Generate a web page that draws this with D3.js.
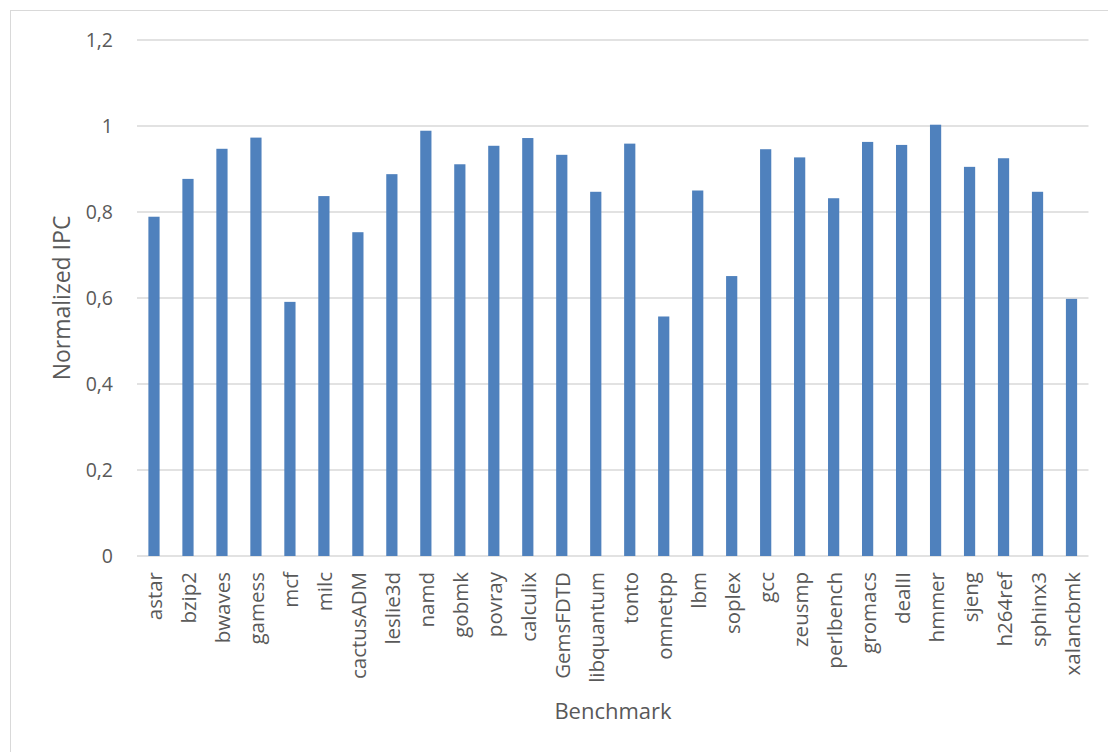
<!DOCTYPE html>
<html>
<head>
<meta charset="utf-8">
<script src="https://cdn.jsdelivr.net/npm/d3@7"></script>
<style>
  html, body { margin: 0; padding: 0; background: #fff; }
  svg { display: block; }
  text { font-family: "Open Sans", "Noto Sans", sans-serif; fill: #595959; }
</style>
</head>
<body>
<svg id="chart" width="1108" height="752"></svg>
<script>
// Benchmarks and their normalized IPC
const benchmarks = ["astar", "bzip2", "bwaves", "gamess", "mcf", "milc", "cactusADM", "leslie3d",
  "namd", "gobmk", "povray", "calculix", "GemsFDTD", "libquantum", "tonto", "omnetpp", "lbm",
  "soplex", "gcc", "zeusmp", "perlbench", "gromacs", "dealII", "hmmer", "sjeng", "h264ref",
  "sphinx3", "xalancbmk"];
const ipc = [0.789, 0.877, 0.947, 0.973, 0.591, 0.837, 0.753, 0.888,
  0.989, 0.911, 0.954, 0.972, 0.933, 0.847, 0.959, 0.557, 0.850,
  0.651, 0.946, 0.927, 0.832, 0.963, 0.956, 1.003, 0.905, 0.925,
  0.847, 0.598];
const yTicks = [0, 0.2, 0.4, 0.6, 0.8, 1, 1.2];

const svg = d3.select("#chart");
const margin = { left: 137, right: 1088.5, top: 40, bottom: 556 };

// outer chart frame
svg.append("rect")
  .attr("x", 10.5).attr("y", 10.5)
  .attr("width", 1120).attr("height", 760)
  .attr("fill", "none").attr("stroke", "#d9d9d9").attr("stroke-width", 1);

const x = d3.scaleBand()
  .domain(benchmarks)
  .range([margin.left, margin.right])
  .paddingInner(0.67)
  .paddingOuter(0.335);

const y = d3.scaleLinear().domain([0, 1.2]).range([margin.bottom, margin.top]);

// horizontal gridlines
svg.append("g")
  .selectAll("line")
  .data(yTicks)
  .join("line")
  .attr("x1", margin.left).attr("x2", margin.right)
  .attr("y1", d => y(d)).attr("y2", d => y(d))
  .attr("stroke", "#d9d9d9").attr("stroke-width", 1.3);

// y axis labels
const fmt = d => d3.format("")(d).replace(".", ",");
svg.append("g")
  .selectAll("text")
  .data(yTicks)
  .join("text")
  .attr("x", 113).attr("y", d => y(d))
  .attr("dy", "0.35em")
  .attr("text-anchor", "end")
  .style("font-size", "19.5px")
  .text(fmt);

// bars
svg.append("g")
  .selectAll("rect")
  .data(benchmarks)
  .join("rect")
  .attr("x", d => x(d))
  .attr("width", x.bandwidth())
  .attr("y", (d, i) => y(ipc[i]))
  .attr("height", (d, i) => y(0) - y(ipc[i]))
  .attr("fill", "#4f81bd");

// category labels, rotated
svg.append("g")
  .selectAll("text")
  .data(benchmarks)
  .join("text")
  .attr("transform", d => `translate(${x(d) + x.bandwidth() / 2 + 1},572) rotate(-90)`)
  .attr("dy", "0.35em")
  .attr("text-anchor", "end")
  .style("font-size", "20.5px")
  .text(d => d);

// axis titles
svg.append("text")
  .attr("x", 613).attr("y", 719)
  .attr("text-anchor", "middle")
  .style("font-size", "22px")
  .text("Benchmark");

svg.append("text")
  .attr("transform", "translate(70,298) rotate(-90)")
  .attr("text-anchor", "middle")
  .style("font-size", "23px")
  .text("Normalized IPC");
</script>
</body>
</html>
